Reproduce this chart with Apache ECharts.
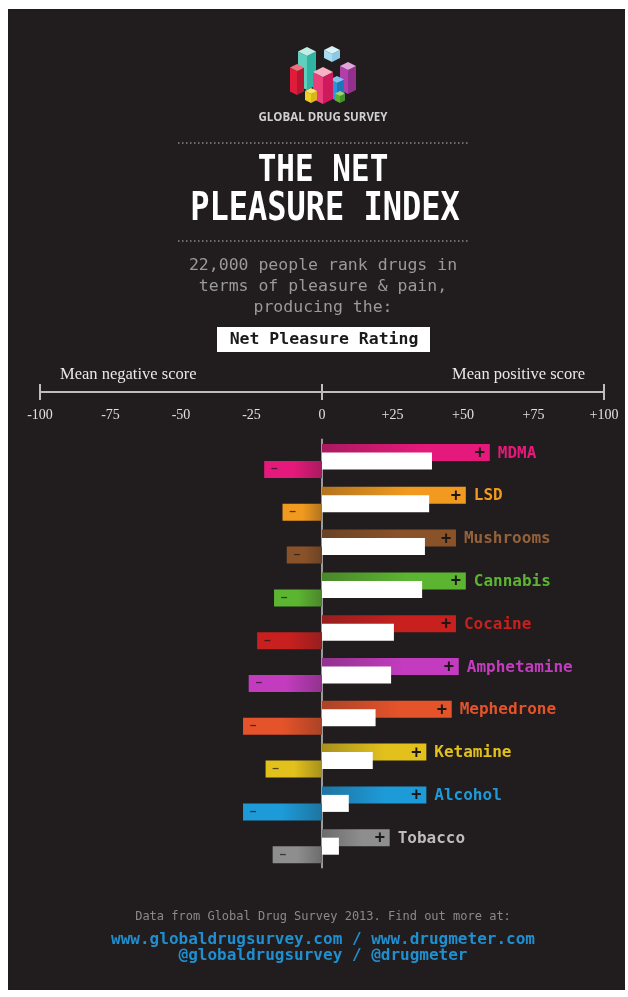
<!DOCTYPE html>
<html><head><meta charset="utf-8">
<script src="https://cdn.jsdelivr.net/npm/echarts@6/dist/echarts.min.js"></script>
<style>html,body{margin:0;padding:0;background:#fff}#c{width:628px;height:997px}</style>
</head><body><div id="c"></div>
<script>
const drugs = ['MDMA','LSD','Mushrooms','Cannabis','Cocaine','Amphetamine','Mephedrone','Ketamine','Alcohol','Tobacco'];
const positiveScore = [59.5, 51, 47.5, 51, 47.5, 48.5, 46, 37, 37, 24];
const negativeScore = [-20.5, -14, -12.5, -17, -23, -26, -28, -20, -28, -17.5];
const netRating = [39, 38, 36.5, 35.5, 25.5, 24.5, 19, 18, 9.5, 6];
const barColors = ['#e5197b','#f29a1f','#8a5229','#5cb531','#c8201e','#c33cbf','#e5532a','#e2c11c','#1d9ad8','#8e8e8e'];
const nameColors = ['#e5197b','#f29a1f','#94623a','#5cb531','#c8201e','#c33cbf','#e5532a','#e2c11c','#1d9ad8','#bdbdbd'];

const BG = '#211c1d';
const MONO = '"DejaVu Sans Mono", "Liberation Mono", monospace';
const SERIF = '"Liberation Serif", "DejaVu Serif", serif';

function mix(hex, other, f) {
  const a = parseInt(hex.slice(1), 16), b = parseInt(other.slice(1), 16);
  const ch = (v, s) => (v >> s) & 255;
  const r = Math.round(ch(a,16)*(1-f) + ch(b,16)*f);
  const g = Math.round(ch(a,8)*(1-f) + ch(b,8)*f);
  const bl = Math.round(ch(a,0)*(1-f) + ch(b,0)*f);
  return 'rgb(' + r + ',' + g + ',' + bl + ')';
}
function grad(c, darkLeft) {
  const dark = mix(c, BG, 0.3);
  const stops = darkLeft
    ? [{offset:0,color:dark},{offset:0.6,color:c},{offset:1,color:c}]
    : [{offset:0,color:c},{offset:0.5,color:c},{offset:1,color:dark}];
  return new echarts.graphic.LinearGradient(0,0,1,0,stops);
}

const posData = positiveScore.map((v,i) => ({value:v, itemStyle:{color:grad(barColors[i], true)}}));
const negData = negativeScore.map((v,i) => ({value:v, itemStyle:{color:grad(barColors[i], false)}}));
const rich = {p:{fontFamily:MONO, fontSize:17, fontWeight:'bold', color:'#1c1818', width:23}};
drugs.forEach((d,i) => { rich['n'+i] = {fontFamily:MONO, fontSize:16, fontWeight:'bold', color:nameColors[i]}; });

function prism(cx, top, w, h, topC, leftC, rightC) {
  return [
    {type:'polygon', shape:{points:[[cx-w,top+w/2],[cx,top+w],[cx,top+w+h],[cx-w,top+w/2+h]]}, style:{fill:leftC}},
    {type:'polygon', shape:{points:[[cx,top+w],[cx+w,top+w/2],[cx+w,top+w/2+h],[cx,top+w+h]]}, style:{fill:rightC}},
    {type:'polygon', shape:{points:[[cx,top],[cx+w,top+w/2],[cx,top+w],[cx-w,top+w/2]]}, style:{fill:topC}}
  ];
}
const logo = [].concat(
  prism(332, 46, 8, 8, '#d8f2fa', '#a8dcef', '#8cc9e6'),
  prism(307, 47, 9, 34, '#bfeee4', '#5fcfbe', '#2fb3a2'),
  prism(348, 62, 8, 24, '#e2a6dc', '#b13faa', '#93308e'),
  prism(297, 64, 7, 24, '#f07080', '#e01c3a', '#b81530'),
  prism(337, 76, 7, 18, '#7cc4f0', '#2a95dc', '#1d78bb'),
  prism(323, 67, 10, 27, '#f7b3c6', '#ea3f7a', '#d0185c'),
  prism(311, 88, 6, 9, '#f7e46a', '#f0d020', '#d8b818'),
  prism(340, 91, 5, 7, '#9bd66d', '#5ab030', '#46922a')
).map(e => Object.assign(e, {z:5}));

const txt = (x, y, text, o) => ({type:'text', x:x, y:y, z:5, scaleX:(o&&o.sx)||1, scaleY:(o&&o.sy)||1,
  style:Object.assign({x:0, y:0, text:text, align:'center', verticalAlign:'middle'}, o && o.style)});

const option = {
  animation:false,
  graphic:{elements:[
    {type:'rect', z:-10, shape:{x:8, y:9, width:617, height:981}, style:{fill:BG}},
    ...logo,
    txt(323, 118, 'GLOBAL DRUG SURVEY', {style:{fill:'#d0d0d0', font:'bold 11.5px "Open Sans", "DejaVu Sans", sans-serif'}}),
    {type:'line', z:5, shape:{x1:178, y1:143, x2:468, y2:143}, style:{stroke:'#8a8a8a', lineWidth:1.5, lineDash:[1.5,2.5]}},
    txt(323, 171, 'THE NET', {sy:1.2, style:{fill:'#ffffff', font:'bold 31px ' + MONO}}),
    txt(325, 210, 'PLEASURE INDEX', {sy:1.2, style:{fill:'#ffffff', font:'bold 32px ' + MONO}}),
    {type:'line', z:5, shape:{x1:178, y1:241, x2:468, y2:241}, style:{stroke:'#8a8a8a', lineWidth:1.5, lineDash:[1.5,2.5]}},
    txt(323, 266, '22,000 people rank drugs in', {style:{fill:'#9a9a9a', font:'16.5px ' + MONO}}),
    txt(323, 287, 'terms of pleasure & pain,', {style:{fill:'#9a9a9a', font:'16.5px ' + MONO}}),
    txt(323, 308, 'producing the:', {style:{fill:'#9a9a9a', font:'16.5px ' + MONO}}),
    {type:'rect', z:5, shape:{x:217, y:327, width:213, height:25}, style:{fill:'#ffffff'}},
    txt(324, 340, 'Net Pleasure Rating', {style:{fill:'#1a1a1a', font:'bold 16.5px ' + MONO}}),
    txt(60, 375, 'Mean negative score', {style:{fill:'#e8e8e8', align:'left', font:'16.5px ' + SERIF}}),
    txt(585, 375, 'Mean positive score', {style:{fill:'#e8e8e8', align:'right', font:'16.5px ' + SERIF}}),
    txt(323, 917, 'Data from Global Drug Survey 2013. Find out more at:', {style:{fill:'#8a8a8a', font:'12px ' + MONO}}),
    txt(323, 940, 'www.globaldrugsurvey.com / www.drugmeter.com', {style:{fill:'#1f8fd0', font:'bold 16px ' + MONO}}),
    txt(323, 956, '@globaldrugsurvey / @drugmeter', {style:{fill:'#1f8fd0', font:'bold 16px ' + MONO}})
  ]},
  grid:[
    {left:40, right:24, top:300, height:92},
    {left:40, right:24, top:439.6, height:428}
  ],
  xAxis:[
    {gridIndex:0, type:'value', min:-100, max:100, interval:25, position:'bottom',
     axisLine:{show:true, lineStyle:{color:'#bdbdbd', width:2}}, axisTick:{show:false}, splitLine:{show:false},
     axisLabel:{color:'#e0e0e0', fontFamily:SERIF, fontSize:14, margin:16, formatter:v => v > 0 ? '+' + v : '' + v}},
    {gridIndex:0, type:'value', min:-100, max:100, interval:100, position:'bottom',
     axisLine:{show:false}, axisLabel:{show:false}, splitLine:{show:false},
     axisTick:{show:true, length:8, lineStyle:{color:'#bdbdbd', width:2}}},
    {gridIndex:0, type:'value', min:-100, max:100, interval:100, position:'bottom',
     axisLine:{show:false}, axisLabel:{show:false}, splitLine:{show:false},
     axisTick:{show:true, inside:true, length:8, lineStyle:{color:'#bdbdbd', width:2}}},
    {gridIndex:1, type:'value', min:-100, max:100, show:false}
  ],
  yAxis:[
    {gridIndex:0, type:'value', show:false},
    {gridIndex:1, type:'category', inverse:true, data:drugs,
     axisLine:{show:true, onZero:true, lineStyle:{color:'#9a9a9a', width:2}},
     axisTick:{show:false}, axisLabel:{show:false}, splitLine:{show:false}}
  ],
  series:[
    {type:'bar', name:'Mean positive score', xAxisIndex:3, yAxisIndex:1, barWidth:17, barGap:'-50%', z:2, data:posData,
     label:{show:true, position:['100%','50%'], align:'left', verticalAlign:'middle', offset:[-15,1],
       formatter:p => '{p|+}{n' + p.dataIndex + '|' + drugs[p.dataIndex] + '}', rich:rich}},
    {type:'bar', name:'Net Pleasure Rating', xAxisIndex:3, yAxisIndex:1, barWidth:17, barGap:'-50%', z:3, data:netRating,
     itemStyle:{color:'#ffffff'}},
    {type:'bar', name:'Mean negative score', xAxisIndex:3, yAxisIndex:1, barWidth:17, barGap:'-50%', z:2, data:negData,
     label:{show:true, position:'insideLeft', distance:7, formatter:'−', color:'rgba(30,25,25,0.75)', fontSize:11, fontWeight:'bold', fontFamily:MONO}}
  ]
};
const chart = echarts.init(document.getElementById('c'));
chart.setOption(option);
</script></body></html>
